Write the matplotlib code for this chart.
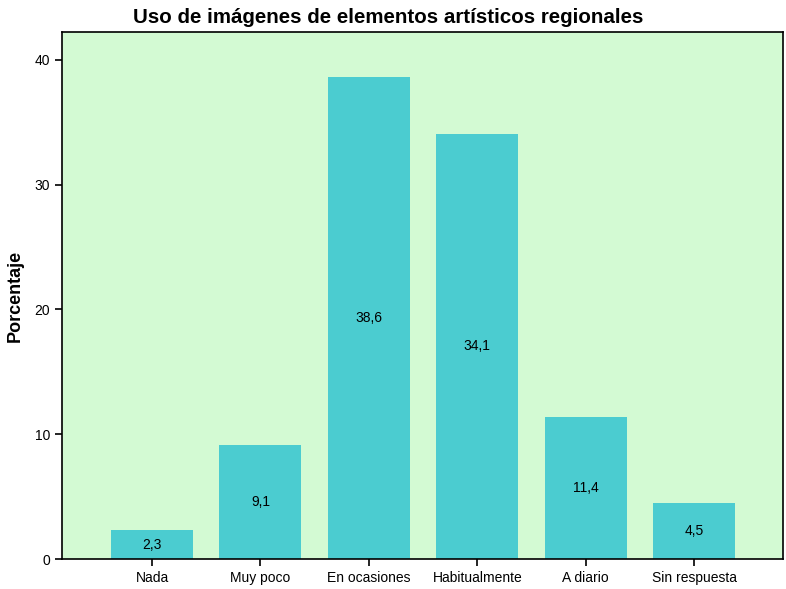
import matplotlib.pyplot as plt

plt.rcParams['font.family'] = ['Liberation Sans', 'DejaVu Sans']

categorias = ['Nada', 'Muy poco', 'En ocasiones', 'Habitualmente', 'A diario', 'Sin respuesta']
porcentajes = [2.3, 9.1, 38.6, 34.1, 11.4, 4.5]
etiquetas = ['2,3', '9,1', '38,6', '34,1', '11,4', '4,5']

fig = plt.figure(figsize=(7.86, 5.89), dpi=100)
fig.set_facecolor('white')
ax = fig.add_axes([0.0789, 0.0509, 0.9173, 0.8948])
ax.set_facecolor('#D3FAD3')

x = range(len(categorias))
ax.bar(x, porcentajes, width=0.756, color='#4BCCD0', edgecolor='none')
for xi, v, t in zip(x, porcentajes, etiquetas):
    ax.text(xi, v / 2, t, ha='center', va='center', fontsize=10, color='black')

ax.set_xlim(-0.83, 5.82)
ax.set_ylim(0, 42.24)
ax.set_yticks([0, 10, 20, 30, 40])
ax.set_xticks(list(x))
ax.set_xticklabels(categorias)
ax.tick_params(axis='both', direction='out', length=5, width=1.2, labelsize=10, colors='black')
for s in ax.spines.values():
    s.set_linewidth(1.2)
    s.set_color('black')

ax.set_ylabel('Porcentaje', fontsize=13, fontweight='bold', labelpad=8)
# título centrado sobre la figura completa
fig.text(0.494, 0.971, 'Uso de imágenes de elementos artísticos regionales',
         ha='center', va='center', fontsize=14.8, fontweight='bold')

fig.savefig('out.png', dpi=100)
